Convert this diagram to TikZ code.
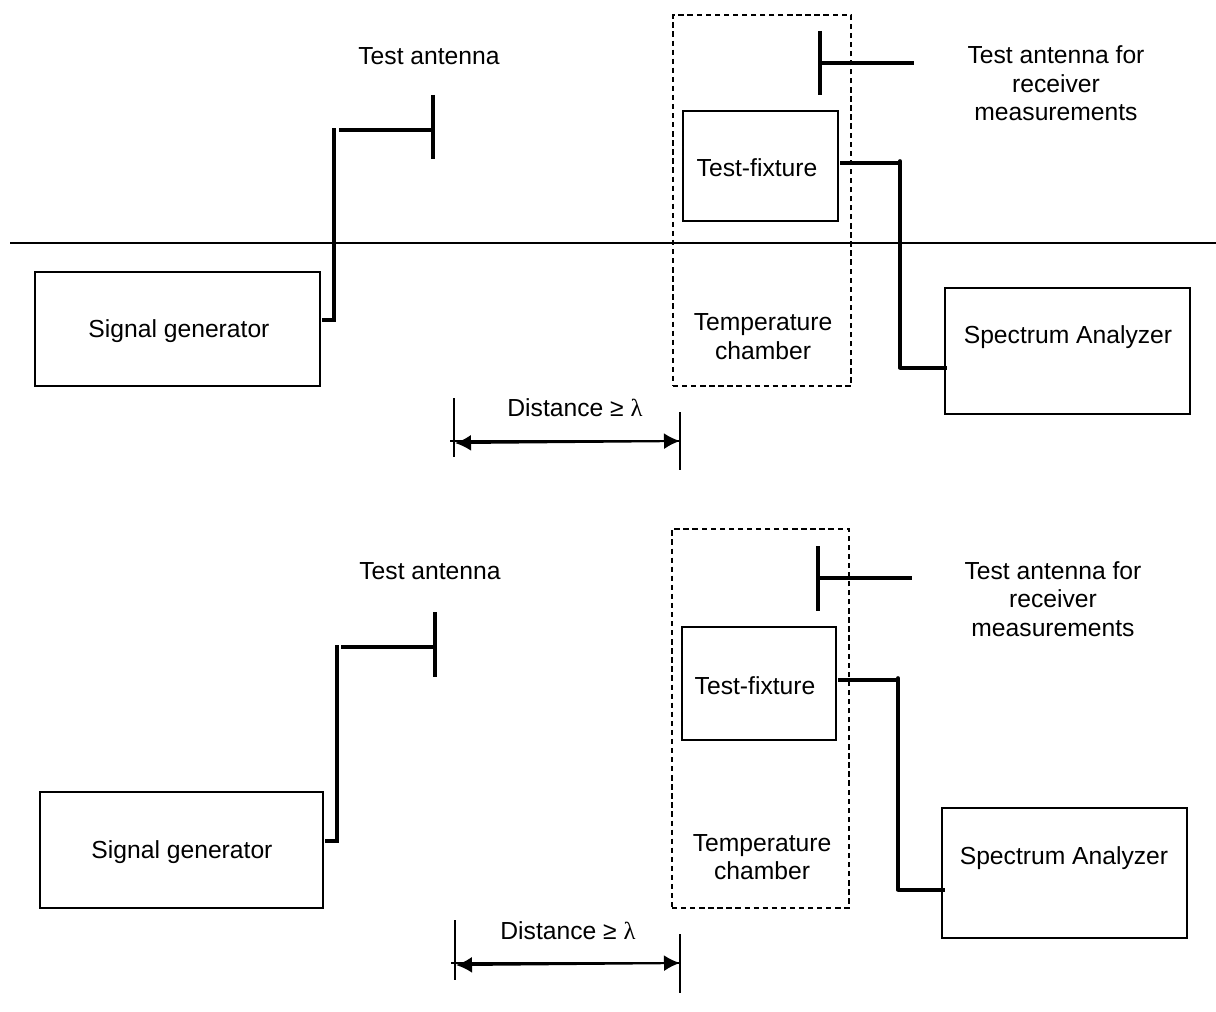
\documentclass[tikz,border=0pt]{standalone}
\usepackage{fontspec}
\setmainfont{Liberation Sans}
\newfontfamily\greekfont{Liberation Serif}
\usetikzlibrary{arrows.meta,calc}
\tikzset{
    blockbox/.style 2 args={draw, line width=0.95pt, minimum width=#1*0.75pt, minimum height=#2*0.75pt, inner sep=0pt},
    chamberbox/.style 2 args={draw, line width=0.9pt, dash pattern=on 4pt off 2.8pt, minimum width=#1*0.75pt, minimum height=#2*0.75pt, inner sep=0pt},
    antennaline/.style={line width=2.4pt},
    feedline/.style={line width=2.5pt},
    bendline/.style={line width=2.7pt, line cap=round},
    tickline/.style={line width=0.9pt},
    spanarrow/.style={line width=1.6pt, {Latex[length=12pt,width=12pt]}-{Latex[length=12pt,width=12pt]}},
    textlabel/.style={inner sep=0pt, align=center}
}
\begin{document}
\begin{tikzpicture}[x=0.75pt,y=-0.75pt,font=\fontsize{18.5pt}{21.5pt}\selectfont]
    \useasboundingbox (0,0) rectangle (1216,1012);

    % Upper setup
    % Divider between the two rooms
    \coordinate (divleft) at (10,243);
    \coordinate (divright) at (1216,243);
    \draw[line width=1.1pt] (divleft) -- (divright);

    % Temperature chamber
    \node[chamberbox={178}{371}] (chambertop) at (762,200.5) {};
    \node[textlabel] (chamberlabeltop) at (763,336.5) {Temperature\\chamber};

    % Signal generator and test antenna
    \node[blockbox={285}{114}] (gentop) at (177.5,329) {};
    \node[textlabel] (genlabeltop) at (179,331) {Signal generator};
    \coordinate (genfeedtop) at (322,320);
    \coordinate (genbendtop) at (334,320);
    \coordinate (genendtop) at (334,128);
    \draw[feedline] (genfeedtop) -- (genbendtop) -- (genendtop);
    \coordinate (antbottop) at (433,159);
    \coordinate (anttoptop) at (433,95);
    \coordinate (antmidtop) at (433,130);
    \coordinate (antfeedtop) at (339,130);
    \draw[antennaline] (anttoptop) -- (antbottop);
    \draw[antennaline] (antfeedtop) -- (antmidtop);
    \node[textlabel] (antlabeltop) at (429,56) {Test antenna};

    % Receiver antenna
    \coordinate (rxuptop) at (820,31);
    \coordinate (rxdowntop) at (820,95);
    \coordinate (rxmidtop) at (820,63);
    \coordinate (rxfeedtop) at (914,63);
    \draw[antennaline] (rxuptop) -- (rxdowntop);
    \draw[antennaline] (rxmidtop) -- (rxfeedtop);
    \node[textlabel] (rxlabeltop) at (1056,83.5) {Test antenna for\\receiver\\measurements};

    % Test-fixture and spectrum analyzer
    \node[blockbox={155}{110}] (fixturetop) at (760.5,166) {};
    \node[textlabel] (fixturelabeltop) at (757,168) {Test-fixture};
    \node[blockbox={245}{126}] (analyzertop) at (1067.5,351) {};
    \node[textlabel] (analyzerlabeltop) at (1068,337) {Spectrum Analyzer};
    \coordinate (fixfeedtop) at (840,163);
    \coordinate (fixbendtop) at (900,163);
    \coordinate (bendcaptop) at (900,161);
    \coordinate (anabendtop) at (900,368);
    \coordinate (anafeedtop) at (947,368);
    \draw[feedline] (fixfeedtop) -- (fixbendtop);
    \draw[bendline] (bendcaptop) -- (anabendtop);
    \draw[feedline] (anabendtop) -- (anafeedtop);

    % Distance marker
    \coordinate (tickatop) at (454,398);
    \coordinate (tickabot) at (454,457);
    \coordinate (tickbtop) at (680,412);
    \coordinate (tickbbot) at (680,470);
    \draw[tickline] (tickatop) -- (tickabot);
    \draw[tickline] (tickbtop) -- (tickbbot);
    \coordinate (spanatop) at (455,443);
    \coordinate (spanbtop) at (680,441);
    \coordinate (spanstubtop) at (450,441);
    \draw[tickline] (spanstubtop) -- (spanbtop);
    \draw[spanarrow] (spanatop) -- (spanbtop);
    \node[textlabel] (distlabeltop) at (575,408) {Distance ≥ {\greekfont λ}};

    % Lower setup
    % Temperature chamber
    \node[chamberbox={177}{379}] (chamberlow) at (760.5,718.5) {};
    \node[textlabel] (chamberlabellow) at (762,857) {Temperature\\chamber};

    % Signal generator and test antenna
    \node[blockbox={283}{116}] (genlow) at (181.5,850) {};
    \node[textlabel] (genlabellow) at (182,852) {Signal generator};
    \coordinate (genfeedlow) at (325,841);
    \coordinate (genbendlow) at (337,841);
    \coordinate (genendlow) at (337,645);
    \draw[feedline] (genfeedlow) -- (genbendlow) -- (genendlow);
    \coordinate (antbotlow) at (435,677);
    \coordinate (anttoplow) at (435,612);
    \coordinate (antmidlow) at (435,647);
    \coordinate (antfeedlow) at (341,647);
    \draw[antennaline] (anttoplow) -- (antbotlow);
    \draw[antennaline] (antfeedlow) -- (antmidlow);
    \node[textlabel] (antlabellow) at (430,571) {Test antenna};

    % Receiver antenna
    \coordinate (rxuplow) at (818,546);
    \coordinate (rxdownlow) at (818,611);
    \coordinate (rxmidlow) at (818,578);
    \coordinate (rxfeedlow) at (912,578);
    \draw[antennaline] (rxuplow) -- (rxdownlow);
    \draw[antennaline] (rxmidlow) -- (rxfeedlow);
    \node[textlabel] (rxlabellow) at (1053,599) {Test antenna for\\receiver\\measurements};

    % Test-fixture and spectrum analyzer
    \node[blockbox={154}{113}] (fixturelow) at (759,683.5) {};
    \node[textlabel] (fixturelabellow) at (755,686) {Test-fixture};
    \node[blockbox={245}{130}] (analyzerlow) at (1064.5,873) {};
    \node[textlabel] (analyzerlabellow) at (1064,858) {Spectrum Analyzer};
    \coordinate (fixfeedlow) at (838,680);
    \coordinate (fixbendlow) at (898,680);
    \coordinate (bendcaplow) at (898,678);
    \coordinate (anabendlow) at (898,890);
    \coordinate (anafeedlow) at (945,890);
    \draw[feedline] (fixfeedlow) -- (fixbendlow);
    \draw[bendline] (bendcaplow) -- (anabendlow);
    \draw[feedline] (anabendlow) -- (anafeedlow);

    % Distance marker
    \coordinate (tickalowtop) at (455,920);
    \coordinate (tickalowbot) at (455,980);
    \coordinate (tickblowtop) at (680,934);
    \coordinate (tickblowbot) at (680,993);
    \draw[tickline] (tickalowtop) -- (tickalowbot);
    \draw[tickline] (tickblowtop) -- (tickblowbot);
    \coordinate (spanalow) at (456,965);
    \coordinate (spanblow) at (680,963);
    \coordinate (spanstublow) at (451,963);
    \draw[tickline] (spanstublow) -- (spanblow);
    \draw[spanarrow] (spanalow) -- (spanblow);
    \node[textlabel] (distlabellow) at (568,931) {Distance ≥ {\greekfont λ}};
\end{tikzpicture}
\end{document}
